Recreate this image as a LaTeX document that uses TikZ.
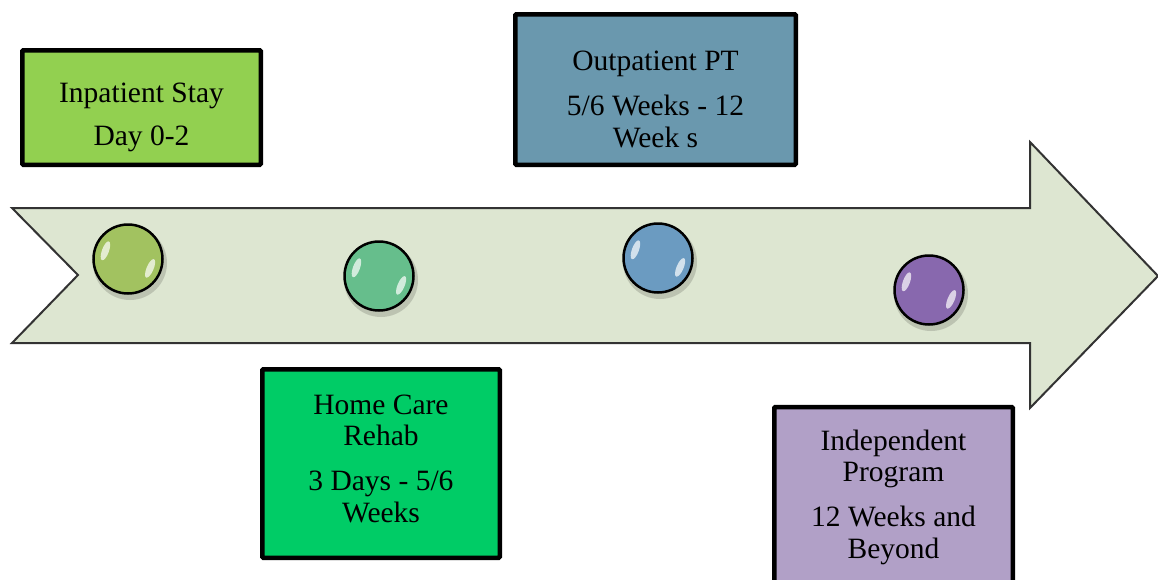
\documentclass[tikz,border=0pt]{standalone}
\usepackage{fontspec}
\setmainfont{Liberation Serif}
\definecolor{arrowfill}{HTML}{DDE6D1}
\definecolor{arrowline}{HTML}{333333}
\definecolor{inpat}{HTML}{92D050}
\definecolor{outpat}{HTML}{6A98AE}
\definecolor{homec}{HTML}{00CC66}
\definecolor{indep}{HTML}{B1A0C7}
\definecolor{ballA}{HTML}{A2C260}
\definecolor{ballB}{HTML}{66BE8C}
\definecolor{ballC}{HTML}{6B9BC1}
\definecolor{ballD}{HTML}{8868AE}
\tikzset{
  box/.style={draw=black, line width=4.5pt, rounded corners=1pt, inner sep=0pt},
  boxtext/.style={anchor=base, align=center, inner sep=0pt, text=black,
    font=\fontsize{29.5}{31.5}\selectfont},
  ball/.style={circle, draw=black, line width=2.5pt, minimum size=69pt, inner sep=0pt},
  shine/.style={white, opacity=0.7},
}
\begin{document}
\begin{tikzpicture}[x=1pt,y=-1pt]
\useasboundingbox (0,0) rectangle (1158,579);
% big arrow
\draw[fill=arrowfill, draw=arrowline, line width=2pt, line join=miter]
  (12,208) -- (1030,208) -- (1030,142) -- (1158,276) -- (1030,408) -- (1030,343)
  -- (12,343) -- (78,275) -- cycle;
% balls
\foreach \n/\x/\y/\c in {c1/128/259/ballA, c2/379/276/ballB, c3/658/258/ballC, c4/929/290/ballD}{
  \fill[black, opacity=0.15] (\x+2,\y+4) circle[radius=37];
  \node[ball, fill=\c] (\n) at (\x,\y) {};
  \fill[shine, shift={(\x,\y)}, rotate=-23] (24,0) ellipse[x radius=3.5, y radius=10];
  \fill[shine, shift={(\x,\y)}, rotate=160] (24,0) ellipse[x radius=3.5, y radius=10];
}
% boxes
\node[box, fill=inpat, minimum width=238.5pt, minimum height=114.5pt] (b1) at (141.5,107.5) {};
\node[box, fill=outpat, minimum width=280.5pt, minimum height=150.5pt] (b2) at (655.5,89.5) {};
\node[box, fill=homec, minimum width=237.5pt, minimum height=188.5pt] (b3) at (381,463.5) {};
\node[box, fill=indep, minimum width=238.5pt, minimum height=182pt] (b4) at (893.5,498) {};
% texts (anchored at the baseline of the last line)
\node[boxtext] (t1) at (141.5,145) {Inpatient Stay\\[11.5pt]Day 0-2};
\node[boxtext] (t2) at (655.5,147) {Outpatient PT\\[13.5pt]5/6 Weeks - 12\\Week s};
\node[boxtext] (t3) at (381,522) {Home Care\\Rehab\\[13.5pt]3 Days - 5/6\\Weeks};
\node[boxtext] (t4) at (893.5,558) {Independent\\Program\\[13.5pt]12 Weeks and\\Beyond};
\end{tikzpicture}
\end{document}
